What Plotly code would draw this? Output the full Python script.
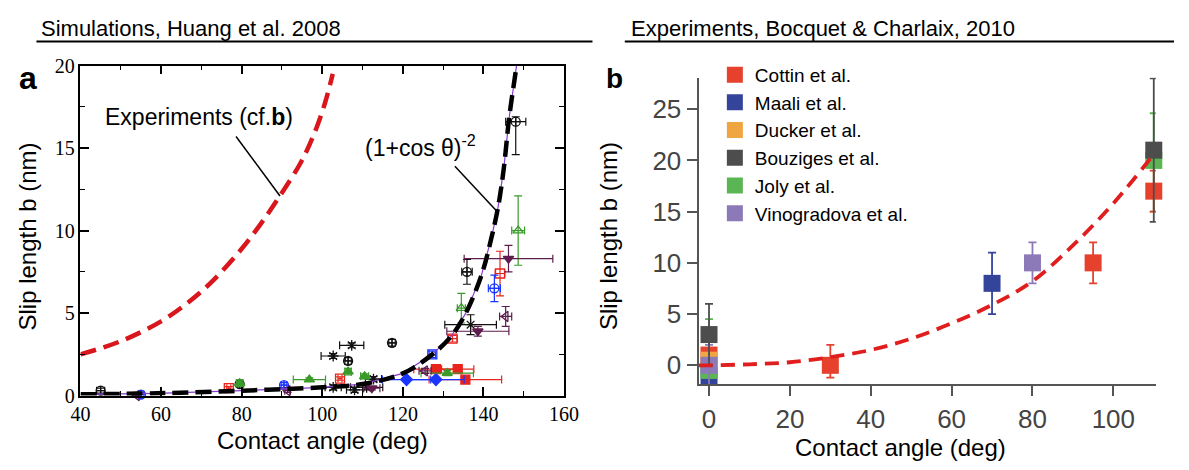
import plotly.graph_objects as go

W, H = 1189, 470
def px(x): return x / W
def py(y): return 1 - y / H

# ---------------- Panel a: simulations, Huang et al. 2008 ----------------
exp_curve_theta = [40, 50, 60, 67, 73, 80, 85, 90, 94.6, 97.7, 100.5, 102.6]
exp_curve_b = [2.5, 3.3, 4.5, 5.7, 7.0, 8.9, 10.5, 12.3, 14.1, 15.7, 17.6, 19.5]

theory_theta = [40, 59, 80, 100, 110, 120, 127.3, 132, 135.5, 139.5, 142, 143.6, 145, 146.4, 148.2, 149]
theory_b = [0.08, 0.14, 0.3, 0.5, 0.7, 1.35, 2.5, 3.6, 4.95, 7.3, 9.6, 11.4, 13.7, 16.9, 20, 21.5]

blk_circ_x = [45, 79.5, 106.4, 117.3, 135.9, 148.0]
blk_circ_y = [0.3, 0.7, 2.1, 3.2, 7.5, 16.6]
blk_circ_xe = [1, 0.5, 0.8, 0.8, 1.3, 2.5]
blk_circ_yp = [0.15, 0.15, 0.2, 0.2, 0.75, 0.3]
blk_circ_ym = [0.15, 0.15, 0.2, 0.2, 0.75, 2.0]

blk_star_x = [54, 102.7, 107.3, 102.7, 108, 111, 112.7, 136.8]
blk_star_y = [-0.1, 2.4, 3.05, 0.5, 0.35, 0.5, 1.0, 4.3]
blk_star_xe = [0.5, 3, 3, 2, 2, 4, 2, 6.4]
blk_star_ye = [0.1, 0.15, 0.15, 0.15, 0.15, 0.15, 0.15, 0.6]

red_osq_x = [76.8, 104.4, 132.3, 144.1]
red_osq_y = [0.45, 1.03, 3.45, 7.4]
red_osq_xe = [0.5, 0.5, 1.2, 1.2]
red_osq_ye = [0.1, 0.1, 0.2, 1.35]

red_fsq_x = [128.2, 133.6, 135.5]
red_fsq_y = [1.6, 1.6, 0.97]
red_fsq_xe = [5.5, 4, 9]
red_fsq_ye = [0.1, 0.1, 0.1]

blu_oc_x = [55, 90.5, 142.7]
blu_oc_y = [0.06, 0.64, 6.5]
blu_oc_xe = [0.7, 0.7, 1.5]
blu_oc_ye = [0.15, 0.15, 0.8]

blu_osq_x = [127.3]
blu_osq_y = [2.5]
blu_osq_xe = [0.8]
blu_osq_ye = [0.2]

blu_fd_x = [120.9, 128.2]
blu_fd_y = [0.97, 0.97]
blu_fd_xe = [6, 7]
blu_fd_ye = [0.05, 0.05]

grn_ft_x = [79.5, 96.8, 106.4, 110.5, 131]
grn_ft_y = [0.75, 0.97, 1.45, 1.17, 1.36]
grn_ft_xe = [0.8, 4, 0.8, 1, 6.5]
grn_ft_ye = [0.2, 0.1, 0.2, 0.15, 0.15]

grn_ot_x = [134.5, 148.6]
grn_ot_y = [5.3, 10]
grn_ot_xe = [1, 1.6]
grn_ot_ye = [0.9, 2.1]

pur_td_x = [112.3, 138.6, 146.2]
pur_td_y = [0.45, 3.9, 8.3]
pur_td_xe = [2, 7.7, 11]
pur_td_ye = [0.1, 0.3, 0.8]

pur_tl_x = [54, 91.4, 125.5, 145.5]
pur_tl_y = [0, 0.3, 1.5, 4.8]
pur_tl_xe = [0.5, 0.7, 1.5, 1.5]
pur_tl_ye = [0.1, 0.1, 0.15, 0.6]

# ---------------- Panel b: experiments, Bocquet & Charlaix 2010 ----------------
cottin_x = [0, 30, 95, 110]
cottin_y = [1.0, 0, 10, 17]
cottin_ep = [0, 2, 2, 2]
cottin_em = [0, 1.2, 2, 2]

maali_x = [0, 70]
maali_y = [-1.0, 8]
maali_e = [0, 3]

ducker_x = [0]
ducker_y = [0.5]
ducker_e = [0]

bouziges_x = [0, 110]
bouziges_y = [3.0, 21]
bouziges_e = [3, 7]

joly_x = [0, 110]
joly_y = [-0.5, 20]
joly_ep = [5, 4.6]
joly_em = [0, 5]

vino_x = [0, 80]
vino_y = [0, 10]
vino_e = [2, 2]

fit_theta = [-2.5, 0, 10, 20, 30, 40, 50, 60, 70, 80, 90, 100, 110]
fit_b = [0, 0, 0.1, 0.3, 0.8, 1.5, 2.6, 4.1, 5.9, 8.2, 11.7, 15.8, 20.6]

fig = go.Figure()

def sim_series(x, y, xe, yp, ym, symbol, color, size=9):
    fig.add_trace(go.Scatter(
        x=x, y=y, mode="markers", xaxis="x", yaxis="y", showlegend=False,
        cliponaxis=False,
        marker=dict(symbol=symbol, size=size, color=color,
                    line=dict(color=color, width=1.3)),
        error_x=dict(type="data", array=xe, color=color, thickness=1.2, width=4),
        error_y=dict(type="data", array=yp, arrayminus=ym, color=color, thickness=1.2, width=4),
    ))

BLK, RED, BLU, GRN, PUR = "#111111", "#e8241c", "#1a35ff", "#3a9a2a", "#5e1d4e"
sim_series(blk_circ_x, blk_circ_y, blk_circ_xe, blk_circ_yp, blk_circ_ym, "circle-cross-open", BLK)
sim_series(blk_star_x, blk_star_y, blk_star_xe, blk_star_ye, blk_star_ye, "asterisk-open", BLK)
sim_series(red_osq_x, red_osq_y, red_osq_xe, red_osq_ye, red_osq_ye, "square-open", RED)
sim_series(red_fsq_x, red_fsq_y, red_fsq_xe, red_fsq_ye, red_fsq_ye, "square", RED)
sim_series(blu_oc_x, blu_oc_y, blu_oc_xe, blu_oc_ye, blu_oc_ye, "circle-cross-open", BLU)
sim_series(blu_osq_x, blu_osq_y, blu_osq_xe, blu_osq_ye, blu_osq_ye, "square-open", BLU)
sim_series(blu_fd_x, blu_fd_y, blu_fd_xe, blu_fd_ye, blu_fd_ye, "diamond", BLU)
sim_series(grn_ft_x, grn_ft_y, grn_ft_xe, grn_ft_ye, grn_ft_ye, "triangle-up", GRN)
sim_series(grn_ot_x, grn_ot_y, grn_ot_xe, grn_ot_ye, grn_ot_ye, "triangle-up-open", GRN)
sim_series(pur_td_x, pur_td_y, pur_td_xe, pur_td_ye, pur_td_ye, "triangle-down", PUR)
sim_series(pur_tl_x, pur_tl_y, pur_tl_xe, pur_tl_ye, pur_tl_ye, "triangle-left-open", PUR)

fig.add_trace(go.Scatter(x=theory_theta, y=theory_b, mode="lines", xaxis="x", yaxis="y",
                         showlegend=False, line=dict(color="#8a3ccf", width=1.2)))
fig.add_trace(go.Scatter(x=theory_theta, y=theory_b, mode="lines", xaxis="x", yaxis="y",
                         showlegend=False, line=dict(color="black", width=4.5, dash="16px,7px", shape="spline")))
fig.add_trace(go.Scatter(x=exp_curve_theta, y=exp_curve_b, mode="lines", xaxis="x", yaxis="y",
                         showlegend=False, line=dict(color="#d8161c", width=4.5, dash="16px,8px", shape="spline")))

def exp_series(name, x, y, ep, em, color, rank):
    fig.add_trace(go.Scatter(
        x=x, y=y, name=name, mode="markers", xaxis="x2", yaxis="y2", legendrank=rank,
        cliponaxis=False,
        marker=dict(symbol="square", size=17, color=color),
        error_y=dict(type="data", array=ep, arrayminus=em, color=color, thickness=1.8, width=4),
    ))

exp_series("Maali et al.", maali_x, maali_y, maali_e, maali_e, "#34449a", 2)
exp_series("Joly et al.", joly_x, joly_y, joly_ep, joly_em, "#5ab552", 5)
exp_series("Cottin et al.", cottin_x, cottin_y, cottin_ep, cottin_em, "#e5412d", 1)
exp_series("Ducker et al.", ducker_x, ducker_y, ducker_e, ducker_e, "#f0a543", 3)
exp_series("Vinogradova et al.", vino_x, vino_y, vino_e, vino_e, "#8b79b8", 6)
exp_series("Bouziges et al.", bouziges_x, bouziges_y, bouziges_e, bouziges_e, "#4d4d4d", 4)

fig.add_trace(go.Scatter(x=fit_theta, y=fit_b, mode="lines", xaxis="x2", yaxis="y2",
                         showlegend=False, cliponaxis=False,
                         line=dict(color="#e01e1e", width=3.8, dash="14px,8px", shape="spline")))

SANS = "Liberation Sans, Arial, sans-serif"
SERIF = "Liberation Serif, Times New Roman, serif"

left_ax = dict(showline=True, linecolor="black", linewidth=1.5, mirror="ticks",
               ticks="inside", ticklen=9, tickwidth=1.5, tickcolor="black",
               showgrid=False, zeroline=False,
               tickfont=dict(family=SERIF, size=20, color="black"))
right_ax = dict(showline=True, linecolor="#555555", linewidth=2,
                ticks="outside", ticklen=10, tickwidth=1.5, tickcolor="#555555",
                showgrid=False, zeroline=False,
                tickfont=dict(family=SANS, size=26, color="#444444"))

annotations = [
    dict(text="Simulations, Huang et al. 2008", x=px(30), y=py(18), xanchor="left",
         font=dict(family=SANS, size=22, color="black")),
    dict(text="Experiments, Bocquet &amp; Charlaix, 2010", x=px(632), y=py(18), xanchor="left",
         font=dict(family=SANS, size=22, color="black")),
    dict(text="<b>a</b>", x=px(18), y=py(70), font=dict(family=SANS, size=32, color="black")),
    dict(text="<b>b</b>", x=px(617), y=py(71), font=dict(family=SANS, size=28, color="black")),
    dict(text="Slip length b (nm)", x=px(18), y=py(237), textangle=-90,
         font=dict(family=SANS, size=24, color="black")),
    dict(text="Contact angle (deg)", x=px(319), y=py(451), font=dict(family=SANS, size=24, color="black")),
    dict(text="Slip length b (nm)", x=px(612), y=py(236), textangle=-90,
         font=dict(family=SANS, size=24, color="black")),
    dict(text="Contact angle (deg)", x=px(910), y=py(458), font=dict(family=SANS, size=24, color="black")),
    dict(text="Experiments (cf.<b>b</b>)", x=69.5, y=16.9, xref="x", yref="y",
         font=dict(family=SANS, size=23, color="black")),
    dict(text="(1+cos θ)<sup>-2</sup>", x=124.3, y=15.1, xref="x", yref="y",
         font=dict(family=SANS, size=23, color="black")),
]
for a in annotations:
    a.setdefault("xref", "paper")
    a.setdefault("yref", "paper")
    a.setdefault("xanchor", "center")
    a.setdefault("yanchor", "middle")
    a["showarrow"] = False

shapes = [
    dict(type="line", xref="paper", yref="paper", x0=px(27), x1=px(595), y0=py(32), y1=py(32),
         line=dict(color="black", width=2)),
    dict(type="line", xref="paper", yref="paper", x0=px(628), x1=px(1189), y0=py(32), y1=py(32),
         line=dict(color="black", width=2)),
    dict(type="line", xref="x", yref="y", x0=78.6, y0=15.7, x1=89.5, y1=12.1, line=dict(color="black", width=1.5)),
    dict(type="line", xref="x", yref="y", x0=132.9, y0=13.9, x1=143.2, y1=11.2, line=dict(color="black", width=1.5)),
]

fig.update_layout(
    width=W, height=H, margin=dict(l=0, r=0, t=0, b=0),
    paper_bgcolor="white", plot_bgcolor="white",
    xaxis=dict(domain=[px(72), px(566)], range=[40, 160], anchor="y", tick0=40, dtick=20,
               minor=dict(dtick=10, ticks="inside", ticklen=5, tickwidth=1.2, tickcolor="black"), **left_ax),
    yaxis=dict(domain=[py(403.5), py(57.3)], range=[0, 20], anchor="x", tick0=0, dtick=5,
               minor=dict(dtick=2.5, ticks="inside", ticklen=5, tickwidth=1.2, tickcolor="black"), **left_ax),
    xaxis2=dict(domain=[px(703.3), px(1170.4)], range=[-2.6, 110.5], anchor="y2",
                tickvals=[0, 20, 40, 60, 80, 100], **right_ax),
    yaxis2=dict(domain=[py(391.7), py(70)], range=[-1.86, 28.07], anchor="x2",
                tickvals=[0, 5, 10, 15, 20, 25], **right_ax),
    legend=dict(x=px(720), y=py(47), xanchor="left", yanchor="top", bgcolor="rgba(255,255,255,0)",
                font=dict(family=SANS, size=19, color="black"), tracegroupgap=0),
    annotations=annotations,
    shapes=shapes,
)

fig.write_html("out.html")
